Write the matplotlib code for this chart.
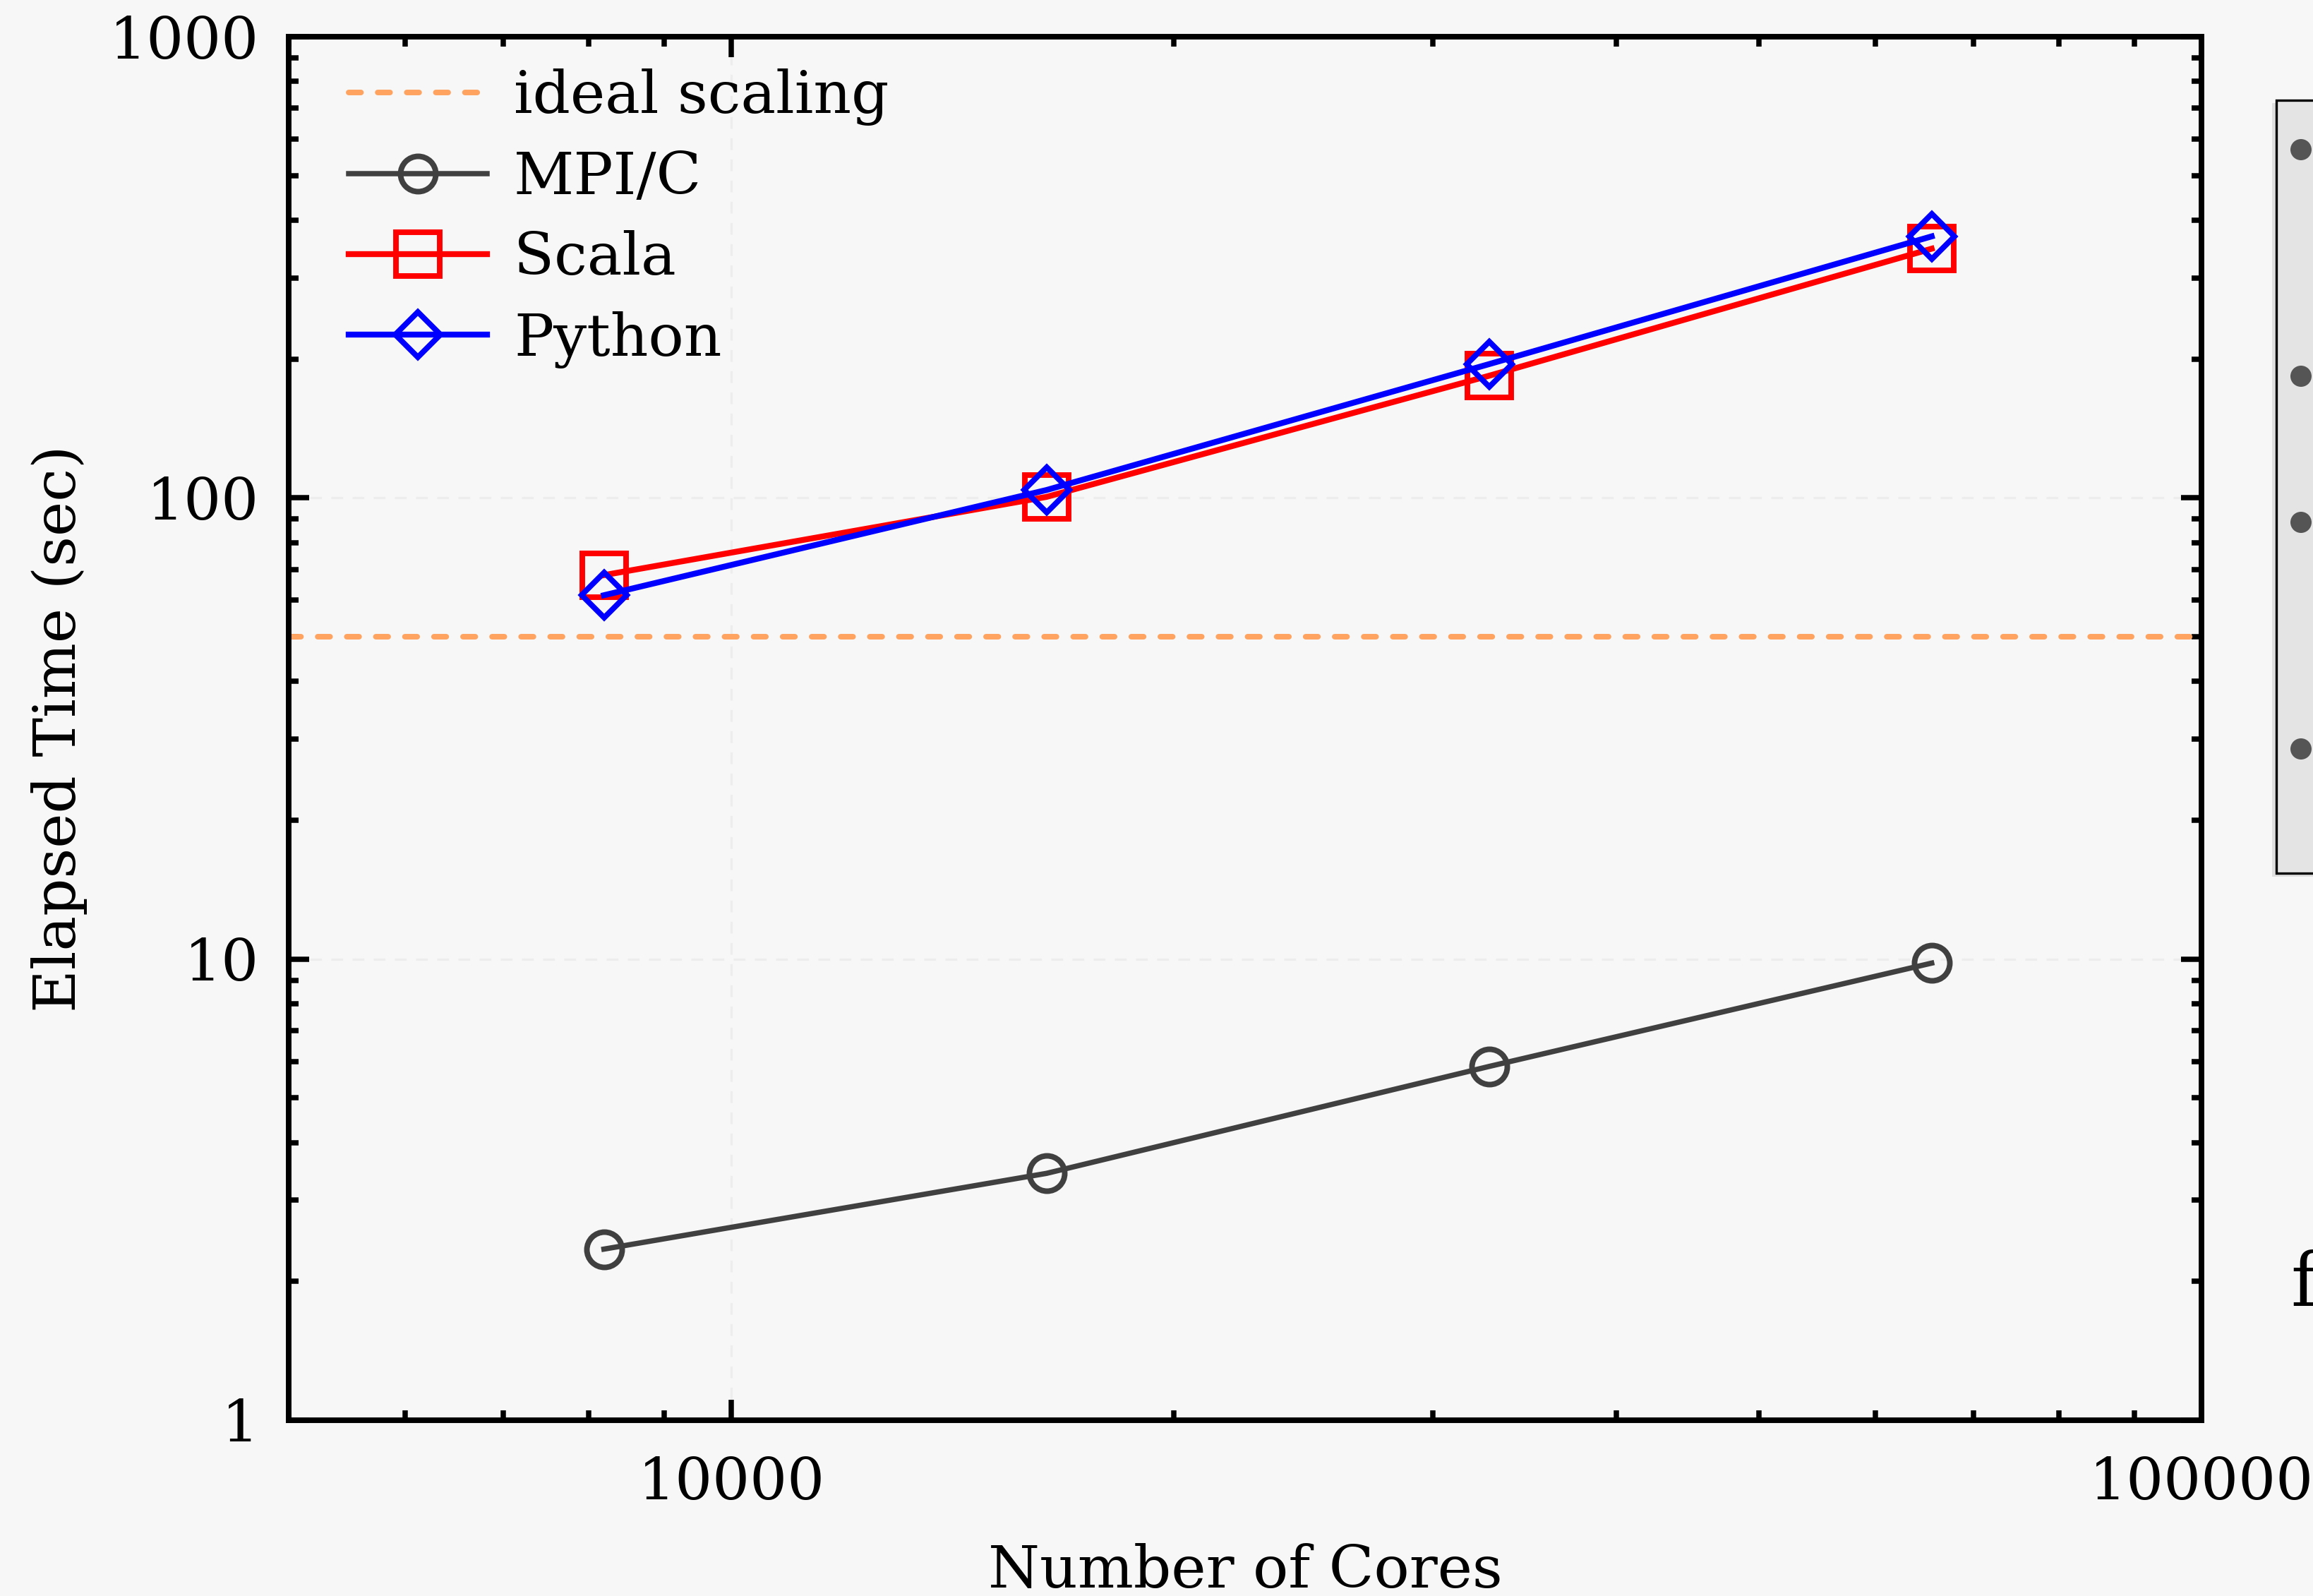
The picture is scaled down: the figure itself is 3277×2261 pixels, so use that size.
import matplotlib
matplotlib.use("Agg")
import matplotlib.pyplot as plt
from matplotlib.patches import Rectangle, Ellipse
from matplotlib.ticker import FixedLocator, FixedFormatter, NullFormatter, LogLocator

# ---- data ----
cores = [8192, 16384, 32768, 65536]
mpi_c = [2.35, 3.43, 5.85, 9.8]
scala = [68, 100.5, 184, 347]
python = [61.5, 104, 195, 369]
ideal_time = 50

x_ticks = [10000, 100000]
x_ticklabels = ["10000", "100000"]
y_ticks = [1, 10, 100, 1000]
y_ticklabels = ["1", "10", "100", "1000"]

BG = "#f7f7f7"
plt.rcParams['font.family'] = ['DejaVu Serif']

W, H = 3278, 2261
DPI = 300
fig = plt.figure(figsize=(W / DPI, H / DPI), dpi=DPI, facecolor=BG)
ax = fig.add_axes([409 / W, 1 - 2012 / H, (3119 - 409) / W, (2012 - 52) / H])
ax.set_facecolor(BG)
ax.set_xscale('log')
ax.set_yscale('log')
ax.set_xlim(5000, 100000)
ax.set_ylim(1, 1000)

ax.grid(True, which='major', color='#ededed', lw=0.8, ls=(0, (5, 4)), zorder=0)

ax.axhline(ideal_time, color='#ffa360', lw=1.9, ls=(0, (2.2, 3.0)),
           dash_capstyle='round', label='ideal scaling', zorder=2)
ax.plot(cores, mpi_c, color='#404040', lw=1.8, marker='o', ms=12, mew=1.9,
        mfc='none', label='MPI/C', zorder=3)
ax.plot(cores, scala, color='#ff0000', lw=2.0, marker='s', ms=15, mew=1.9,
        mfc='none', label='Scala', zorder=3)
ax.plot(cores, python, color='#0000ff', lw=2.0, marker='D', ms=10.8, mew=1.9,
        mfc='none', label='Python', zorder=4)

for s in ax.spines.values():
    s.set_linewidth(1.9)
ax.tick_params(which='both', direction='in', top=True, right=True, width=1.8,
               labelsize=20, colors='black')
ax.tick_params(which='major', length=7)
ax.tick_params(which='minor', length=3.3)
ax.tick_params(axis='x', which='major', pad=12)
ax.tick_params(axis='y', which='major', pad=10)

ax.xaxis.set_major_locator(FixedLocator(x_ticks))
ax.xaxis.set_major_formatter(FixedFormatter(x_ticklabels))
ax.xaxis.set_minor_locator(LogLocator(base=10, subs=range(2, 10), numticks=20))
ax.xaxis.set_minor_formatter(NullFormatter())
ax.yaxis.set_major_locator(FixedLocator(y_ticks))
ax.yaxis.set_major_formatter(FixedFormatter(y_ticklabels))
ax.yaxis.set_minor_locator(LogLocator(base=10, subs=range(2, 10), numticks=20))
ax.yaxis.set_minor_formatter(NullFormatter())

ax.set_xlabel('Number of Cores', fontsize=20, labelpad=10.5)
ax.set_ylabel('Elapsed Time (sec)', fontsize=20, labelpad=7.5)

ax.legend(loc='upper left', bbox_to_anchor=(0.019, 0.994), frameon=False,
          fontsize=20, handlelength=2.36, handletextpad=0.45, labelspacing=0.41,
          borderaxespad=0, borderpad=0.4, numpoints=1)

# cut-off panel on the right edge of the figure
shadow = Rectangle((3219 / W, 1 - 1242 / H), 0.1, (1242 - 146) / H,
                   transform=fig.transFigure, facecolor='#d0d0d0', edgecolor='none',
                   alpha=0.6, clip_on=False, zorder=1)
fig.patches.append(shadow)
panel = Rectangle((3225 / W, 1 - 1237 / H), 0.1, (1237 - 142) / H,
                  transform=fig.transFigure, facecolor='#e4e4e4', edgecolor='black',
                  lw=0.8, clip_on=False, zorder=2)
fig.patches.append(panel)
for py in [212, 533, 740, 1061]:
    fig.patches.append(Ellipse((3260 / W, 1 - py / H), 30 / W, 30 / H,
                               transform=fig.transFigure, facecolor='#555555',
                               edgecolor='none', zorder=3))
fig.text(3245 / W, 1 - 1850 / H, 'f', fontsize=25, ha='left', va='baseline')

fig.savefig('out.png', dpi=DPI, facecolor=BG)
